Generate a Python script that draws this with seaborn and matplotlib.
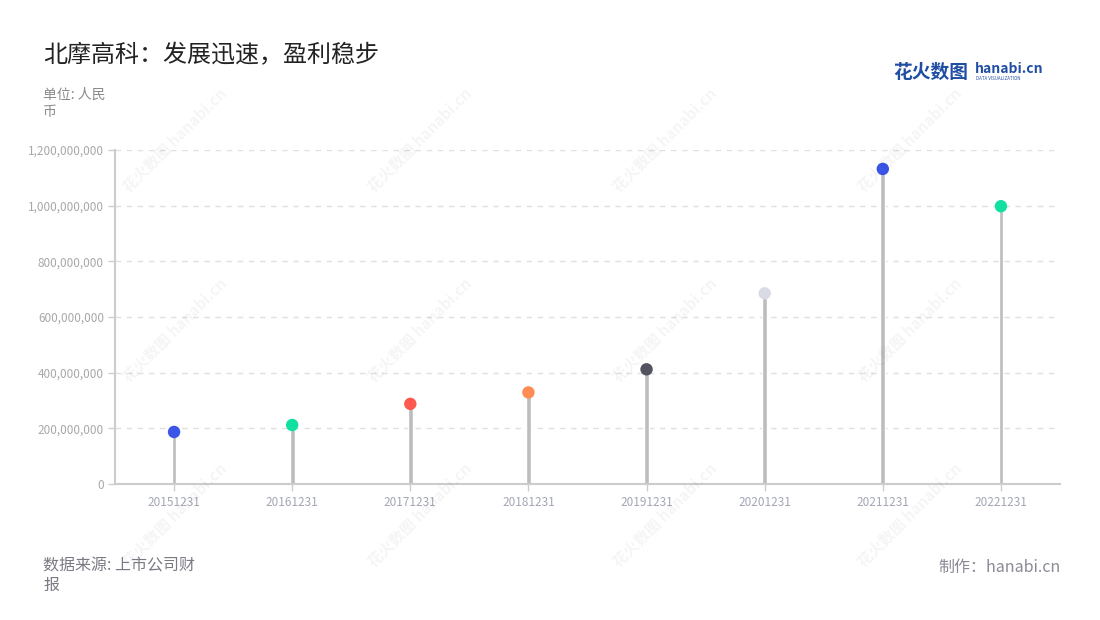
import matplotlib
matplotlib.use("Agg")
import matplotlib.pyplot as plt
import seaborn as sns
import pandas as pd
from matplotlib.ticker import FuncFormatter, MultipleLocator

dates = ["20151231", "20161231", "20171231", "20181231",
         "20191231", "20201231", "20211231", "20221231"]
values = [187000000, 212000000, 288000000, 329000000,
          412000000, 685000000, 1132000000, 998000000]
point_colors = ["#3a55e8", "#12e0a0", "#ff5a4f", "#ff8c52",
                "#535261", "#d8dbe4", "#3a55e8", "#12e0a0"]

title = "北摩高科：发展迅速，盈利稳步"
unit_label = "单位: 人民\n币"
source_label = "数据来源: 上市公司财\n报"
credit_label = "制作：hanabi.cn"

sns.set_theme(style="white")
plt.rcParams["font.family"] = ["Noto Sans CJK SC", "DejaVu Sans"]

df = pd.DataFrame({"date": dates, "value": values})

fig = plt.figure(figsize=(11, 6.2), dpi=100)
ax = fig.add_axes([115/1100, 1-484/620, (1060-115)/1100, (484-150)/620])

# watermarks
for wx in [175, 420, 665, 910]:
    for wy in [140, 330, 515]:
        fig.text(wx/1100, 1-wy/620, "花火数图 hanabi.cn", rotation=45,
                 ha="center", va="center", fontsize=11, color="#000000",
                 alpha=0.045, fontweight="bold", zorder=0)

sns.barplot(data=df, x="date", y="value", width=0.04, color="#bdbdbd",
            saturation=1, ax=ax, zorder=2)
sns.scatterplot(data=df, x="date", y="value", hue="date",
                palette=point_colors, s=80, edgecolor="none", legend=False,
                ax=ax, zorder=3)

ax.set_ylim(0, 1200000000)
ax.set_xlim(-0.5, 7.5)
ax.yaxis.set_major_locator(MultipleLocator(200000000))
ax.yaxis.set_major_formatter(FuncFormatter(lambda v, p: f"{int(v):,}"))
ax.set_xlabel("")
ax.set_ylabel("")
ax.grid(axis="y", color="#e0e0e0", linestyle=(0, (4, 4)), linewidth=1)
ax.set_axisbelow(True)
for s in ["top", "right"]:
    ax.spines[s].set_visible(False)
for s in ["left", "bottom"]:
    ax.spines[s].set_color("#cccccc")
    ax.spines[s].set_linewidth(1.5)
ax.tick_params(axis="y", left=True, length=5, width=1, color="#cccccc",
               labelsize=8.5, labelcolor="#a8a8a8", pad=3)
ax.tick_params(axis="x", bottom=True, length=5, width=1, color="#cccccc",
               labelsize=8.5, labelcolor="#a3a7b5", pad=4)

fig.text(43/1100, 1-55/620, title, fontsize=17.3, color="#222222",
         ha="left", va="center")
fig.text(43/1100, 1-88/620, unit_label, fontsize=10, color="#8a8a8a",
         ha="left", va="top", linespacing=1.25)
fig.text(43/1100, 1-557/620, source_label, fontsize=11.5, color="#7a7a84",
         ha="left", va="top", linespacing=1.25)
fig.text(1061/1100, 1-567/620, credit_label, fontsize=11.5, color="#8a8a96",
         ha="right", va="center")

# logo
fig.text(893/1100, 1-72/620, "花火数图", fontsize=13.5, color="#1f4ea3",
         ha="left", va="center", fontweight="bold")
fig.text(975/1100, 1-69/620, "hanabi.cn", fontsize=10, color="#1f4ea3",
         ha="left", va="center", fontweight="bold")
fig.text(976/1100, 1-79/620, "DATA VISUALIZATION", fontsize=3.2,
         color="#1f4ea3", ha="left", va="center")

fig.savefig("out.png", dpi=100, facecolor="white")
